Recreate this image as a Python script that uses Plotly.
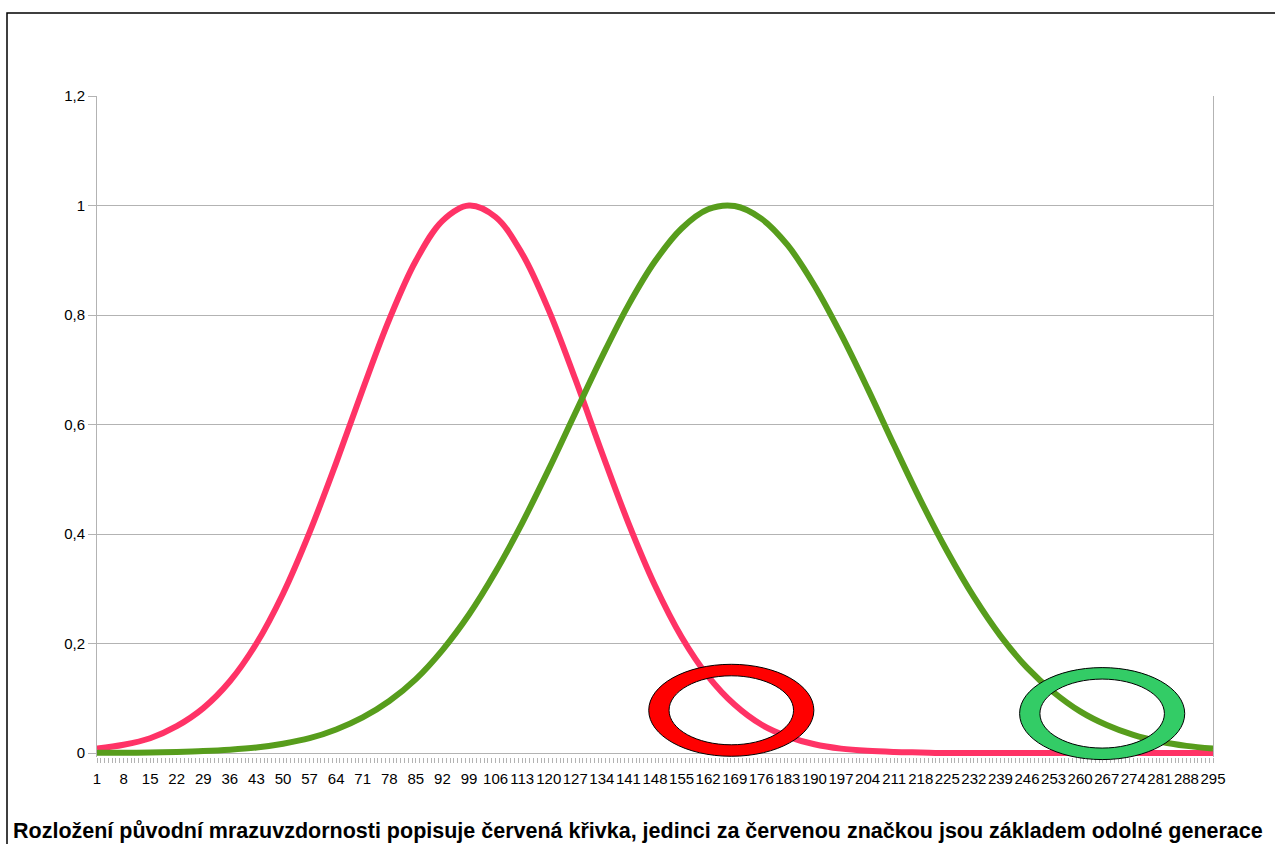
import plotly.graph_objects as go

# ---- data ----
x_cats = list(range(1, 296, 7))  # 1, 8, 15, ..., 295 (labelled categories)
red_vals = [0.008, 0.015, 0.027, 0.049, 0.082, 0.131, 0.200, 0.291, 0.403, 0.530,
            0.664, 0.792, 0.899, 0.972, 1.000, 0.979, 0.912, 0.809, 0.683, 0.549,
            0.420, 0.306, 0.212, 0.140, 0.088, 0.052, 0.030, 0.016, 0.008, 0.004,
            0.002, 0.001, 0.000, 0.000, 0.000, 0.000, 0.000, 0.000, 0.000, 0.000,
            0.000, 0.000, 0.000]
green_vals = [0.0003, 0.0005, 0.001, 0.002, 0.0035, 0.006, 0.010, 0.017, 0.027, 0.043,
              0.065, 0.095, 0.135, 0.188, 0.253, 0.331, 0.420, 0.518, 0.621, 0.723,
              0.818, 0.898, 0.958, 0.993, 0.999, 0.976, 0.927, 0.854, 0.765, 0.666,
              0.562, 0.461, 0.368, 0.285, 0.214, 0.156, 0.111, 0.076, 0.051, 0.033,
              0.021, 0.013, 0.008]
y_ticks = [0, 0.2, 0.4, 0.6, 0.8, 1, 1.2]
caption = ("Rozložení původní mrazuvzdornosti popisuje červená křivka, "
           "jedinci za červenou značkou jsou základem odolné generace")

# ring markers (center x category, center y value)
rings = [
    {"cx": 168.1, "cy": 0.078, "fill": "#ff0000"},
    {"cx": 265.8, "cy": 0.072, "fill": "#33cc66"},
]
RING_OUTER = (21.75, 0.084)
RING_INNER = (16.4, 0.063)

# ---- layout constants ----
W, H = 1275, 844
L, R, T, B = 97, 62, 96, 87
XMIN, XMAX = 1, 295
YMIN, YMAX = -0.0073, 1.2
PW, PH = W - L - R, H - T - B


def px_x(px):
    return (px - L) / PW


def px_y(py):
    return (H - B - py) / PH


def dx(v):
    return (v - XMIN) / (XMAX - XMIN)


def dy(v):
    return (v - YMIN) / (YMAX - YMIN)


def ellipse(cx, cy, rx, ry):
    k = 0.5523
    pts = lambda a, b: f"{dx(a):.5f},{dy(b):.5f}"
    return (f"M{pts(cx + rx, cy)} "
            f"C{pts(cx + rx, cy + k * ry)} {pts(cx + k * rx, cy + ry)} {pts(cx, cy + ry)} "
            f"C{pts(cx - k * rx, cy + ry)} {pts(cx - rx, cy + k * ry)} {pts(cx - rx, cy)} "
            f"C{pts(cx - rx, cy - k * ry)} {pts(cx - k * rx, cy - ry)} {pts(cx, cy - ry)} "
            f"C{pts(cx + k * rx, cy - ry)} {pts(cx + rx, cy - k * ry)} {pts(cx + rx, cy)} Z")


fig = go.Figure()
fig.add_trace(go.Scatter(x=x_cats, y=red_vals, mode="lines", line_shape="spline",
                         line=dict(color="#ff3366", width=6), showlegend=False,
                         hoverinfo="skip"))
fig.add_trace(go.Scatter(x=x_cats, y=green_vals, mode="lines", line_shape="spline",
                         line=dict(color="#579d1c", width=6), showlegend=False,
                         hoverinfo="skip"))

shapes = []
for rg in rings:
    path = (ellipse(rg["cx"], rg["cy"], *RING_OUTER) + " " +
            ellipse(rg["cx"], rg["cy"], *RING_INNER))
    shapes.append(dict(type="path", xref="paper", yref="paper", path=path,
                       fillcolor=rg["fill"], fillrule="evenodd",
                       line=dict(color="black", width=1), layer="above"))

# outer black frame
shapes.append(dict(type="rect", xref="paper", yref="paper",
                   x0=px_x(7), x1=px_x(W + 10), y0=px_y(H + 10), y1=px_y(13),
                   line=dict(color="black", width=1.5), fillcolor="rgba(0,0,0,0)",
                   layer="above"))

fig.update_layout(
    width=W, height=H,
    margin=dict(l=L, r=R, t=T, b=B),
    paper_bgcolor="white", plot_bgcolor="white",
    separators=", ",
    font=dict(family="Liberation Sans, Arial, sans-serif", size=15, color="black"),
    shapes=shapes,
    showlegend=False,
    annotations=[dict(text=f"<b>{caption}</b>", xref="paper", yref="paper",
                      x=px_x(637.5), y=px_y(831), xanchor="center", yanchor="middle",
                      showarrow=False,
                      font=dict(family="Liberation Sans, Arial, sans-serif",
                                size=21.5, color="black"))],
)
fig.update_xaxes(
    range=[XMIN, XMAX], tickmode="array", tickvals=x_cats,
    ticktext=[str(v) for v in x_cats],
    showgrid=False, zeroline=False,
    showline=False,
    ticks="outside", ticklen=5, tickcolor="#b3b3b3", tickwidth=1,
    ticklabelstandoff=3,
    minor=dict(tick0=1, dtick=1, ticks="outside", ticklen=5,
               tickcolor="#b3b3b3", tickwidth=1, showgrid=False),
    tickangle=0,
    tickfont=dict(size=15),
)
fig.update_yaxes(
    range=[YMIN, YMAX], tickmode="array", tickvals=y_ticks,
    showgrid=True, gridcolor="#b3b3b3", gridwidth=1,
    zeroline=True, zerolinecolor="#b3b3b3", zerolinewidth=1,
    showline=True, linecolor="#b3b3b3", linewidth=1, mirror=True,
    ticks="outside", ticklen=8, tickcolor="#b3b3b3", tickwidth=1,
    tickfont=dict(size=15),
)

fig.write_html("out.html")
